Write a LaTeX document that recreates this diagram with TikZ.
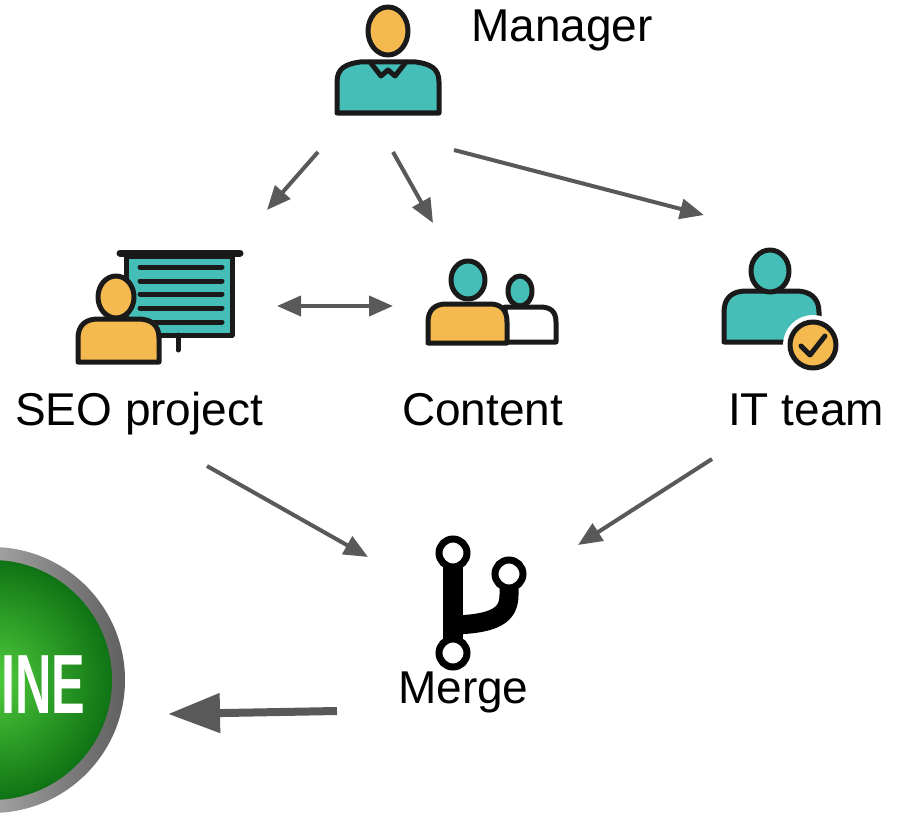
\documentclass[tikz,border=0pt]{standalone}
\usepackage{fontspec}
\setmainfont{Liberation Sans}
\usetikzlibrary{arrows.meta}

\definecolor{iconline}{HTML}{1A1A1A}
\definecolor{skin}{HTML}{F4BA50}
\definecolor{shirt}{HTML}{45BEB8}
\definecolor{arrowgray}{HTML}{595959}
\definecolor{btnlight}{RGB}{80,205,60}
\definecolor{btndark}{RGB}{15,115,20}

\tikzset{
	icon/.style={draw=iconline, line width=5pt, line join=round, line cap=round},
	flow/.style={draw=arrowgray, line width=4pt, -{Triangle[length=24pt, width=20pt]}},
	bigflow/.style={draw=arrowgray, line width=8pt, -{Triangle[length=52pt, width=38pt]}},
	lbl/.style={font=\fontsize{46}{55}\selectfont, inner sep=0pt, anchor=base west},
}

\begin{document}
\begin{tikzpicture}[x=1pt, y=-1pt]
	\useasboundingbox (0,0) rectangle (903,816);

	% online button, cut by the left edge
	\begin{scope}
		\clip (0,0) rectangle (903,816);
		\shade[left color=gray!20, right color=gray!75!black] (-8,680) circle (133);
		\shade[inner color=btnlight, outer color=btndark] (-8,680) circle (120);
	\end{scope}
	\node[anchor=base west, inner sep=0pt, text=white, font=\bfseries\fontsize{84}{90}\selectfont] (online) at (1,713) {\scalebox{0.6}[1]{INE}};

	% manager
	\draw[icon, fill=shirt] (337,113) -- (337,82) .. controls (337,68) and (346,64) .. (360,62) -- (416,62) .. controls (430,64) and (439,68) .. (439,82) -- (439,113) -- cycle;
	\draw[icon] (370,62) -- (381,76) -- (388,70) -- (395,76) -- (406,62);
	\draw[icon, fill=skin] (388,31) ellipse (20 and 24);
	\node[lbl] (manager) at (471,42) {Manager};

	% seo project
	\draw[icon, line width=7pt] (120,253) -- (240,253);
	\draw[icon, fill=shirt] (126,256) rectangle (232,335);
	\foreach \y in {267,281,294,308,322}
		\draw[icon] (140,\y) -- (222,\y);
	\draw[icon] (178,335) -- (178,350);
	\draw[icon, fill=skin] (78,362) -- (78,338) .. controls (78,325) and (86,319) .. (98,319) -- (138,319) .. controls (151,319) and (159,325) .. (159,338) -- (159,362) -- cycle;
	\draw[icon, fill=skin] (116,297) ellipse (18 and 21);
	\node[lbl] (seo) at (15,425) {SEO project};

	% content
	\draw[icon, fill=white] (505,342) -- (556,342) -- (556,322) .. controls (556,311) and (550,307) .. (540,307) -- (505,307) -- cycle;
	\draw[icon, fill=shirt] (520,291) ellipse (12 and 15);
	\draw[icon, fill=skin] (428,343) -- (428,322) .. controls (428,310) and (435,304) .. (446,304) -- (490,304) .. controls (501,304) and (507,310) .. (507,322) -- (507,343) -- cycle;
	\draw[icon, fill=shirt] (468,280) ellipse (17 and 19);
	\node[lbl] (content) at (402,425) {Content};

	% it team
	\draw[icon, fill=shirt] (724,342) -- (724,312) .. controls (724,298) and (732,291) .. (746,291) -- (796,291) .. controls (810,291) and (819,298) .. (819,312) -- (819,342) -- cycle;
	\draw[icon, fill=shirt] (770,271) ellipse (19 and 21);
	\draw[white, line width=14pt] (813,345) circle (23);
	\draw[icon, fill=skin] (813,345) circle (23);
	\draw[icon] (801,346) -- (810,355) -- (825,336);
	\node[lbl] (itteam) at (728,425) {IT team};

	% merge
	\draw[line width=20pt] (453,553) -- (453,653);
	\draw[line width=19pt] (509,574) -- (509,595) .. controls (509,615) and (495,624) .. (453,625);
	\foreach \p in {(453,553),(509,574),(453,653)}
		\draw[line width=7pt, fill=white] \p circle (14);
	\node[lbl] (merge) at (398,703) {Merge};

	% arrow ends
	\coordinate (mgr-a) at (318,152);
	\coordinate (mgr-b) at (393,152);
	\coordinate (mgr-c) at (454,150);
	\coordinate (seo-in) at (267,210);
	\coordinate (content-in) at (433,223);
	\coordinate (it-in) at (704,215);
	\coordinate (seo-r) at (277,306);
	\coordinate (content-l) at (393,306);
	\coordinate (seo-out) at (207,466);
	\coordinate (it-out) at (712,459);
	\coordinate (merge-l) at (368,557);
	\coordinate (merge-r) at (578,545);
	\coordinate (merge-out) at (337,711);
	\coordinate (online-in) at (168,714);

	\draw[flow] (mgr-a) -- (seo-in);
	\draw[flow] (mgr-b) -- (content-in);
	\draw[flow] (mgr-c) -- (it-in);
	\draw[flow, {Triangle[length=24pt, width=20pt]}-{Triangle[length=24pt, width=20pt]}] (seo-r) -- (content-l);
	\draw[flow] (seo-out) -- (merge-l);
	\draw[flow] (it-out) -- (merge-r);
	\draw[bigflow] (merge-out) -- (online-in);

\end{tikzpicture}
\end{document}
